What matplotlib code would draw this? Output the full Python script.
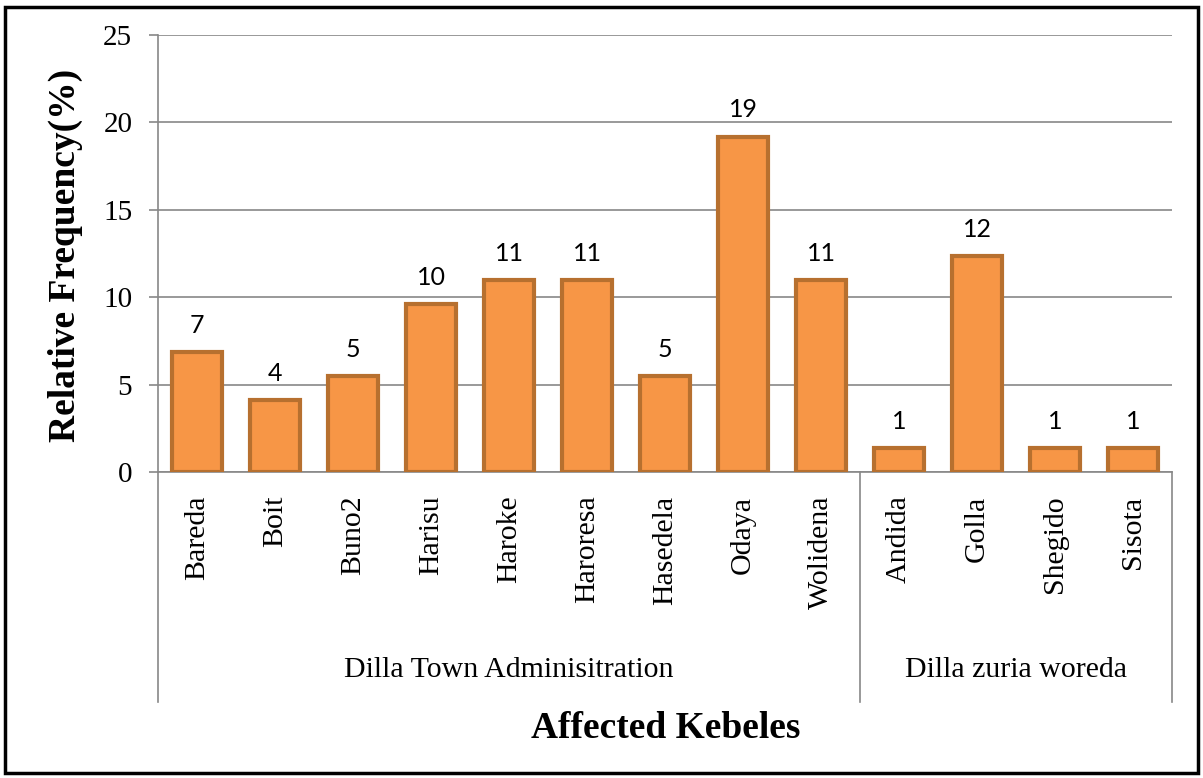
import matplotlib
matplotlib.use("Agg")
import matplotlib.pyplot as plt
import matplotlib.transforms as mtransforms
from matplotlib.patches import Rectangle

# Data (relative frequency in %, 73 records in total)
kebeles = ["Bareda", "Boit", "Buno2", "Harisu", "Haroke", "Haroresa", "Hasedela",
           "Odaya", "Wolidena", "Andida", "Golla", "Shegido", "Sisota"]
counts = [5, 3, 4, 7, 8, 8, 4, 14, 8, 1, 9, 1, 1]
rel_freq = [c / 73 * 100 for c in counts]
groups = ["Dilla Town Adminisitration", "Dilla zuria woreda"]
group_sizes = [9, 4]
y_ticks = [0, 5, 10, 15, 20, 25]

serif = "Liberation Serif"
fill_col = "#F79646"
edge_col = "#B7702F"
grid_col = "#888888"

fig = plt.figure(figsize=(12.03, 7.78), dpi=100)
ax = fig.add_axes([158 / 1203, 1 - 472 / 778, (1172 - 158) / 1203, (472 - 35) / 778])

x = list(range(len(kebeles)))
bars = ax.bar(x, rel_freq, width=0.63, color=fill_col, edgecolor=edge_col,
              linewidth=3, zorder=3)

# value labels
for xi, v in zip(x, rel_freq):
    ax.annotate(f"{v:.0f}", (xi, v), xytext=(0, 11), textcoords="offset points",
                ha="center", va="bottom", fontsize=18, family="Lato", zorder=4)

ax.set_xlim(-0.5, len(kebeles) - 0.5)
ax.set_ylim(0, 25)
ax.set_yticks(y_ticks)
ax.set_yticklabels([str(t) for t in y_ticks], family=serif, fontsize=21)
ax.yaxis.grid(True, color=grid_col, linewidth=1.2, zorder=0)
ax.tick_params(axis="y", length=6.5, width=1.2, color=grid_col, pad=12)

ax.set_xticks(x)
ax.set_xticklabels(kebeles, rotation=90, family=serif, fontsize=21.5, va="top")
ax.tick_params(axis="x", length=0, pad=17)

for s in ["top", "right"]:
    ax.spines[s].set_visible(False)
ax.spines["left"].set_color(grid_col)
ax.spines["left"].set_linewidth(1.2)
ax.spines["bottom"].set_color(grid_col)
ax.spines["bottom"].set_linewidth(1.2)

# group separators and labels below the axis
trans = mtransforms.blended_transform_factory(ax.transData, ax.transAxes)
low = -(702 - 472) / 437
edges = [-0.5]
for n in group_sizes:
    edges.append(edges[-1] + n)
for e in edges:
    ax.plot([e, e], [0, low], color=grid_col, linewidth=1.2, transform=trans,
            clip_on=False)
for g, a, b in zip(groups, edges[:-1], edges[1:]):
    ax.text((a + b) / 2, -(670 - 472) / 437, g, transform=trans, ha="center",
            va="center", family=serif, fontsize=21.5)

fig.text(65 / 1203, 1 - 255 / 778, "Relative Frequency(%)", rotation=90,
         ha="center", va="center", family=serif, fontsize=27, fontweight="bold")
fig.text(666 / 1203, 1 - 728 / 778, "Affected Kebeles", ha="center", va="center",
         family=serif, fontsize=27, fontweight="bold")

# outer frame
fig.patches.append(Rectangle((5 / 1203, 5 / 778), 1 - 10 / 1203, 1 - 12 / 778,
                             transform=fig.transFigure, fill=False,
                             edgecolor="black", linewidth=2.5))

fig.savefig("out.png", dpi=100)
